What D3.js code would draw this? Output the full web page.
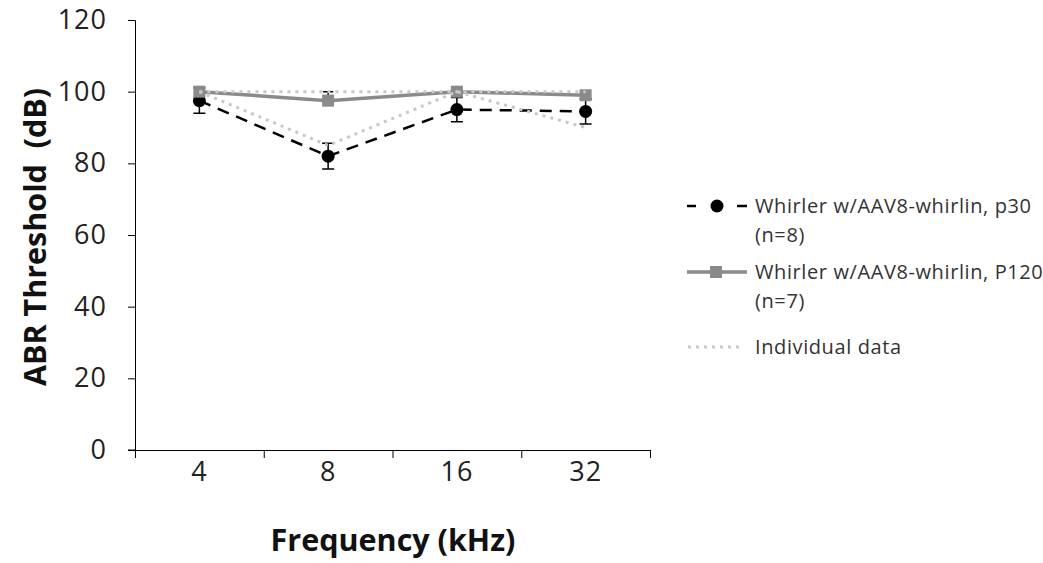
<!DOCTYPE html>
<html>
<head>
<meta charset="utf-8">
<script src="https://cdn.jsdelivr.net/npm/d3@7"></script>
<style>
  body { margin: 0; background: #fff; }
  svg { display: block; }
</style>
</head>
<body>
<svg id="chart"></svg>
<script>
// data
var freqs = ["4", "8", "16", "32"];
var p30Mean = [97.5, 82, 95, 94.5];
var p30Err = [3.5, 3.6, 3.4, 3.5];
var p120Mean = [100, 97.5, 100, 99];
var p120Err = [0, 2.5, 0, 0];
var indivA = [100, 85, 100, 90];
var indivB = [100, 100, 100, 100];
var yTicks = [0, 20, 40, 60, 80, 100, 120];

var svgWidth = 1043, svgHeight = 563;
var margin = { top: 20, right: 393, bottom: 113, left: 135 };
var width = svgWidth - margin.left - margin.right;
var height = svgHeight - margin.top - margin.bottom;

var svg = d3.select("#chart")
    .attr("width", svgWidth)
    .attr("height", svgHeight);

var g = svg.append("g")
    .attr("transform", "translate(" + margin.left + "," + margin.top + ")");

var xScale = d3.scaleBand().domain(freqs).range([0, width]);
var yScale = d3.scaleLinear().domain([0, 120]).range([height, 0]);
var xCenter = function(i) { return xScale(freqs[i]) + xScale.bandwidth() / 2; };

// y axis
var yAxis = g.append("g")
    .call(d3.axisLeft(yScale).tickValues(yTicks).tickSize(7).tickPadding(21));
yAxis.selectAll("text")
    .attr("font-family", "Open Sans, sans-serif")
    .attr("font-size", 27)
    .attr("letter-spacing", 1)
    .attr("fill", "#222");

// x axis: ticks between categories
var xEdges = d3.scaleLinear().domain([0, freqs.length]).range([0, width]);
g.append("g")
    .attr("transform", "translate(0," + height + ")")
    .call(d3.axisBottom(xEdges).tickValues(d3.range(freqs.length + 1)).tickSize(8).tickFormat(""));
var xAxis = g.append("g")
    .attr("transform", "translate(0," + height + ")")
    .call(d3.axisBottom(xScale).tickSize(0).tickPadding(12));
xAxis.select(".domain").remove();
xAxis.selectAll("text")
    .attr("font-family", "Open Sans, sans-serif")
    .attr("font-size", 27)
    .attr("letter-spacing", 1)
    .attr("fill", "#222");
// little stub of the y axis tick at zero
g.append("line").attr("x1", -7).attr("x2", 0).attr("y1", height).attr("y2", height).attr("stroke", "#000");

svg.selectAll(".domain, .tick line").attr("stroke", "#000").attr("stroke-width", 1);

// axis titles
svg.append("text")
    .attr("x", 393)
    .attr("y", 551)
    .attr("text-anchor", "middle")
    .attr("font-family", "Open Sans, sans-serif")
    .attr("font-weight", "bold")
    .attr("font-size", 30.5)
    .attr("fill", "#111")
    .text("Frequency (kHz)");

svg.append("text")
    .attr("transform", "translate(46," + (margin.top + height / 2 + 2) + ") rotate(-90)")
    .attr("text-anchor", "middle")
    .attr("font-family", "Open Sans, sans-serif")
    .attr("font-weight", "bold")
    .attr("font-size", 30.5)
    .attr("fill", "#111")
    .style("white-space", "pre")
    .text("ABR Threshold  (dB)");

var line = d3.line()
    .x(function(d, i) { return xCenter(i); })
    .y(function(d) { return yScale(d); });

// p30 series (black dashed, circles)
g.selectAll(".err30")
    .data(p30Mean)
    .enter()
    .append("path")
    .attr("d", function(d, i) {
        var x = xCenter(i), y1 = yScale(d - p30Err[i]), y2 = yScale(d + p30Err[i]);
        return "M" + x + "," + y1 + "V" + y2 + "M" + (x - 6) + "," + y1 + "H" + (x + 6) + "M" + (x - 6) + "," + y2 + "H" + (x + 6);
    })
    .attr("stroke", "#000").attr("stroke-width", 1.5).attr("fill", "none");

g.append("path")
    .datum(p30Mean)
    .attr("d", line)
    .attr("fill", "none")
    .attr("stroke", "#000")
    .attr("stroke-width", 2.5)
    .attr("stroke-dasharray", "12,8");

g.selectAll(".dot30")
    .data(p30Mean)
    .enter()
    .append("circle")
    .attr("cx", function(d, i) { return xCenter(i); })
    .attr("cy", function(d) { return yScale(d); })
    .attr("r", 6.5)
    .attr("fill", "#000");

// P120 series (gray solid, squares)
g.selectAll(".err120")
    .data(p120Mean)
    .enter()
    .append("path")
    .attr("d", function(d, i) {
        var x = xCenter(i), y1 = yScale(d), y2 = yScale(d + p120Err[i]);
        return "M" + x + "," + y1 + "V" + y2 + "M" + (x - 5) + "," + y2 + "H" + (x + 5);
    })
    .attr("stroke", function(d, i) { return p120Err[i] > 0 ? "#000" : "none"; })
    .attr("stroke-width", 1.5).attr("fill", "none");

g.append("path")
    .datum(p120Mean)
    .attr("d", line)
    .attr("fill", "none")
    .attr("stroke", "#8a8a8a")
    .attr("stroke-width", 3.5);

g.selectAll(".sq120")
    .data(p120Mean)
    .enter()
    .append("rect")
    .attr("x", function(d, i) { return xCenter(i) - 6; })
    .attr("y", function(d) { return yScale(d) - 6; })
    .attr("width", 12)
    .attr("height", 12)
    .attr("fill", "#8a8a8a");

// individual data (light gray dotted)
[indivA, indivB].forEach(function(arr) {
    g.append("path")
        .datum(arr)
        .attr("d", line)
        .attr("fill", "none")
        .attr("stroke", "#c8c8c8")
        .attr("stroke-width", 3)
        .attr("stroke-dasharray", "3,5");
});

// legend
var legend = svg.append("g").attr("transform", "translate(687,0)");
var legendFont = function(sel) {
    sel.attr("font-family", "Open Sans, sans-serif")
       .attr("font-size", 20)
       .attr("letter-spacing", 0.6)
       .attr("fill", "#333");
};

// entry 1: short dashes either side of a dot
legend.append("line").attr("x1", 0).attr("x2", 9).attr("y1", 206).attr("y2", 206)
    .attr("stroke", "#000").attr("stroke-width", 2.5);
legend.append("line").attr("x1", 50).attr("x2", 60).attr("y1", 206).attr("y2", 206)
    .attr("stroke", "#000").attr("stroke-width", 2.5);
legend.append("circle").attr("cx", 30).attr("cy", 206).attr("r", 6.5).attr("fill", "#000");
legend.append("text").attr("x", 68).attr("y", 213).text("Whirler w/AAV8-whirlin, p30").call(legendFont);
legend.append("text").attr("x", 68).attr("y", 242).text("(n=8)").call(legendFont);

// entry 2
legend.append("line").attr("x1", 0).attr("x2", 60).attr("y1", 272).attr("y2", 272)
    .attr("stroke", "#8a8a8a").attr("stroke-width", 3.5);
legend.append("rect").attr("x", 23).attr("y", 266).attr("width", 12).attr("height", 12).attr("fill", "#8a8a8a");
legend.append("text").attr("x", 68).attr("y", 279).text("Whirler w/AAV8-whirlin, P120").call(legendFont);
legend.append("text").attr("x", 68).attr("y", 308).text("(n=7)").call(legendFont);

// entry 3
legend.append("line").attr("x1", 1).attr("x2", 56).attr("y1", 347).attr("y2", 347)
    .attr("stroke", "#c8c8c8").attr("stroke-width", 3).attr("stroke-dasharray", "3,5");
legend.append("text").attr("x", 68).attr("y", 354).text("Individual data").call(legendFont);
</script>
</body>
</html>
